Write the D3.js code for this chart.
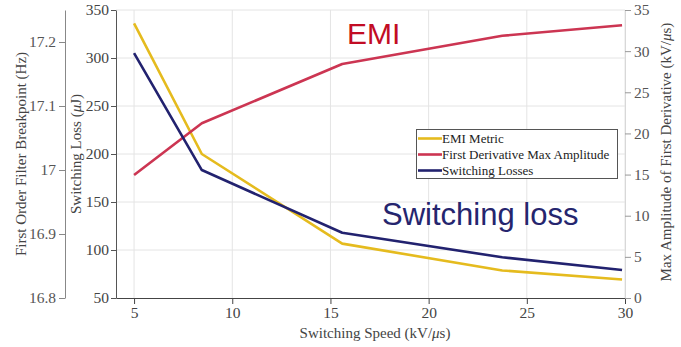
<!DOCTYPE html>
<html>
<head>
<meta charset="utf-8">
<script src="https://cdn.jsdelivr.net/npm/d3@7"></script>
<style>
  html, body { margin: 0; padding: 0; background: #fff; }
  svg { display: block; }
  .tick text { font-family: "Liberation Serif", "DejaVu Serif", serif; }
</style>
</head>
<body>
<svg id="chart" width="681" height="347"></svg>
<script>
// Switching speed (kV/us) at each measured point
const speeds = [5, 8.45, 15.6, 23.75, 29.85];
// EMI metric, first-order filter breakpoint (Hz)
const emiMetric = [17.229, 17.025, 16.885, 16.843, 16.829];
// Maximum amplitude of the first derivative (kV/us)
const derivMax = [14.95, 21.23, 28.44, 31.87, 33.14];
// Switching losses (uJ)
const switchLoss = [305, 183.3, 118, 92.4, 79.2];

const xTicks = [5, 10, 15, 20, 25, 30];
const lossTicks = [50, 100, 150, 200, 250, 300, 350];
const hzTicks = [16.8, 16.9, 17, 17.1, 17.2];
const derivTicks = [0, 5, 10, 15, 20, 25, 30, 35];

const seriesNames = ["EMI Metric", "First Derivative Max Amplitude", "Switching Losses"];
const colors = ["#e5bb1e", "#cc3552", "#22226f"];

const svg = d3.select("#chart");
const serif = "'Liberation Serif', 'DejaVu Serif', serif";
const sans = "'Liberation Sans', Arial, sans-serif";

const plotL = 116, plotR = 625, plotT = 10, plotB = 298;

const x = d3.scaleLinear().domain([4.08, 30]).range([plotL, plotR]);
const yLoss = d3.scaleLinear().domain([50, 350]).range([plotB, plotT]);
const yHz = d3.scaleLinear().domain([16.8, 17.25]).range([plotB, plotT]);
const yDer = d3.scaleLinear().domain([0, 35]).range([plotB, plotT]);

// grid
const grid = svg.append("g");
grid.selectAll("line.v").data(xTicks).join("line")
  .attr("x1", d => x(d)).attr("x2", d => x(d))
  .attr("y1", plotT).attr("y2", plotB)
  .attr("stroke", "#e4e4e4").attr("stroke-width", 1);
grid.selectAll("line.h").data(lossTicks.slice(1)).join("line")
  .attr("x1", plotL).attr("x2", plotR)
  .attr("y1", d => yLoss(d)).attr("y2", d => yLoss(d))
  .attr("stroke", "#e4e4e4").attr("stroke-width", 1);

function styleAxis(g, lineColor, textColor) {
  g.select(".domain").attr("stroke", lineColor);
  g.selectAll(".tick line").attr("stroke", lineColor);
  g.selectAll(".tick text").attr("fill", textColor)
    .style("font-size", "15.5px").style("font-family", serif);
}

// x axis
const gx = svg.append("g").attr("transform", `translate(0,${plotB})`)
  .call(d3.axisBottom(x).tickValues(xTicks).tickSize(6).tickPadding(3).tickSizeOuter(0));
styleAxis(gx, "#444", "#444");

// switching loss axis
const gl = svg.append("g").attr("transform", `translate(${plotL},0)`)
  .call(d3.axisLeft(yLoss).tickValues(lossTicks).tickSize(5).tickPadding(2).tickSizeOuter(0));
styleAxis(gl, "#555", "#444");

// breakpoint frequency axis
const gh = svg.append("g").attr("transform", `translate(65,0)`)
  .call(d3.axisLeft(yHz).tickValues(hzTicks).tickFormat(d3.format("")).tickSize(6).tickPadding(3).tickSizeOuter(0));
styleAxis(gh, "#888", "#555");

// derivative amplitude axis
const gr = svg.append("g").attr("transform", `translate(${plotR},0)`)
  .call(d3.axisRight(yDer).tickValues(derivTicks).tickSize(6).tickPadding(3).tickSizeOuter(0));
styleAxis(gr, "#999", "#555");
gr.select(".domain").attr("stroke", "#d8d8d8");

// axis titles (mu set in italic, as in math mode)
function title(sel, before, after) {
  sel.attr("fill", "#444").style("font-family", serif).style("font-size", "15px");
  sel.append("tspan").text(before);
  if (after !== undefined) {
    sel.append("tspan").style("font-style", "italic").text("\u03bc");
    sel.append("tspan").text(after);
  }
}
title(svg.append("text").attr("transform", `translate(26,154) rotate(-90)`)
  .attr("text-anchor", "middle"), "First Order Filter Breakpoint (Hz)");
title(svg.append("text").attr("transform", `translate(81,154) rotate(-90)`)
  .attr("text-anchor", "middle"), "Switching Loss (", "J)");
title(svg.append("text").attr("transform", `translate(671,152) rotate(-90)`)
  .attr("text-anchor", "middle"), "Max Amplitude of First Derivative (kV/", "s)");
title(svg.append("text").attr("x", 375).attr("y", 338)
  .attr("text-anchor", "middle"), "Switching Speed (kV/", "s)");

// series
const series = [
  { vals: emiMetric, y: yHz },
  { vals: derivMax, y: yDer },
  { vals: switchLoss, y: yLoss }
];
series.forEach((s, i) => {
  const line = d3.line().x((d, j) => x(speeds[j])).y(d => s.y(d));
  svg.append("path").datum(s.vals)
    .attr("d", line).attr("fill", "none")
    .attr("stroke", colors[i]).attr("stroke-width", 2.6)
    .attr("stroke-linejoin", "round");
});

// annotations
svg.append("text").attr("x", 347).attr("y", 44)
  .attr("fill", "#c20c24").style("font-family", sans).style("font-size", "30px")
  .text("EMI");
svg.append("text").attr("x", 382).attr("y", 225)
  .attr("fill", "#25256e").style("font-family", sans).style("font-size", "31px")
  .text("Switching loss");

// legend
const lg = svg.append("g");
lg.append("rect").attr("x", 416.5).attr("y", 129.5).attr("width", 201).attr("height", 49)
  .attr("fill", "#fff").attr("stroke", "#555").attr("stroke-width", 1);
seriesNames.forEach((name, i) => {
  const yy = 138.5 + i * 16;
  lg.append("line").attr("x1", 418).attr("x2", 442).attr("y1", yy).attr("y2", yy)
    .attr("stroke", colors[i]).attr("stroke-width", 2.6);
  lg.append("text").attr("x", 442).attr("y", yy + 4.5)
    .attr("fill", "#222").style("font-family", serif).style("font-size", "13px")
    .text(name);
});
</script>
</body>
</html>
